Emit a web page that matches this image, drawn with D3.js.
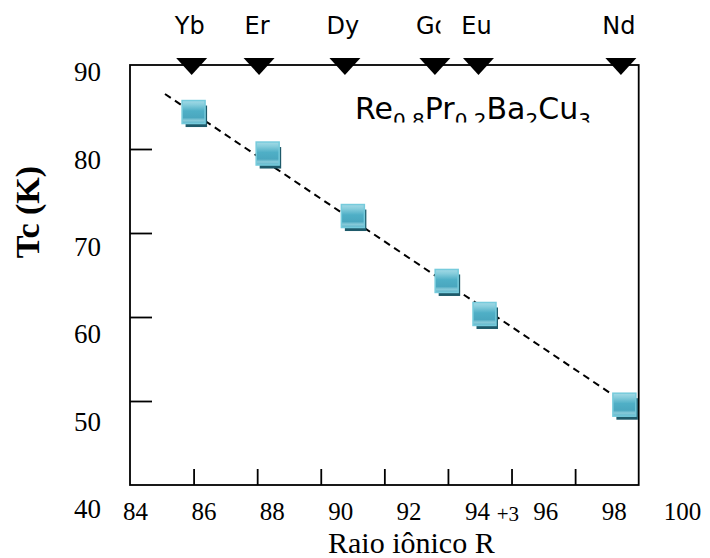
<!DOCTYPE html>
<html><head><meta charset="utf-8">
<script src="https://cdn.jsdelivr.net/npm/d3@7"></script>
<style>body{margin:0;background:#fff}</style>
</head><body>
<svg id="chart" width="710" height="558"></svg>
<script>
// ---- data ----
const elements = ["Yb", "Er", "Dy", "Gd", "Eu", "Nd"];
const radius = [86.0, 88.33, 91.01, 93.96, 95.15, 99.55];        // squares, x
const tc = [84.4, 79.46, 72.02, 64.29, 60.36, 49.56];             // squares, y (K)
const markerRadius = [85.94, 88.06, 90.76, 93.59, 94.96, 99.44];  // top triangle markers
const fitRadius = [85.1, 99.6];                                    // dashed fit line ends
const fitTc = [86.55, 49.68];
const xTickValues = [86, 88, 90, 92, 94, 96, 98];
const yTickValues = [50, 60, 70, 80];
const xTickLabels = [84, 86, 88, 90, 92, 94, 96, 98, 100];
const yTickLabels = [40, 50, 60, 70, 80, 90];
const formula = [["Re", "0.8"], ["Pr", "0.2"], ["Ba", "2"], ["Cu", "3"]];

// ---- layout ----
const svg = d3.select("#chart");
const frame = {left: 130, right: 638.7, top: 65, bottom: 485};
const x = d3.scaleLinear().domain([84, 100]).range([frame.left, frame.right]);
const y = d3.scaleLinear().domain([40, 90]).range([frame.bottom, frame.top]);
// tick-label layer (slightly stretched in the original figure)
const xl = d3.scaleLinear().domain([84, 100]).range([135, 682]);
const yl = d3.scaleLinear().domain([40, 90]).range([509, 72]);

const defs = svg.append("defs");
const grad = defs.append("linearGradient").attr("id", "sq").attr("x1", 0).attr("y1", 0).attr("x2", 0).attr("y2", 1);
[["0%", "#a3dae6"], ["18%", "#86cddc"], ["45%", "#4fafc6"], ["74%", "#4aa7bf"], ["86%", "#88cad9"], ["100%", "#5cb5ca"]]
  .forEach(([o, c]) => grad.append("stop").attr("offset", o).attr("stop-color", c));
defs.append("clipPath").attr("id", "fclip").append("rect")
  .attr("x", 300).attr("y", 80).attr("width", 330).attr("height", 42.5);

// ticks (inward)
const gx = svg.append("g").attr("transform", `translate(0,${frame.bottom})`)
  .call(d3.axisBottom(x).tickValues(xTickValues).tickSize(-16).tickFormat(""));
gx.select(".domain").remove();
gx.selectAll(".tick line").attr("stroke", "#000").attr("stroke-width", 1.8);
const gy = svg.append("g").attr("transform", `translate(${frame.left},0)`)
  .call(d3.axisLeft(y).tickValues(yTickValues).tickSize(-22).tickFormat(""));
gy.select(".domain").remove();
gy.selectAll(".tick line").attr("stroke", "#000").attr("stroke-width", 1.8);

// frame
svg.append("rect").attr("x", frame.left).attr("y", frame.top)
  .attr("width", frame.right - frame.left).attr("height", frame.bottom - frame.top)
  .attr("fill", "none").attr("stroke", "#000").attr("stroke-width", 1.8);

// tick labels
const gxl = svg.append("g").attr("transform", "translate(0,502)")
  .call(d3.axisBottom(xl).tickValues(xTickLabels).tickSize(0).tickPadding(0));
gxl.select(".domain").remove();
gxl.selectAll("text").attr("font-family", "'Liberation Serif', 'Times New Roman', serif")
  .attr("font-size", 25).attr("fill", "#000");
const gyl = svg.append("g").attr("transform", "translate(101,0)")
  .call(d3.axisLeft(yl).tickValues(yTickLabels).tickSize(0).tickPadding(0));
gyl.select(".domain").remove();
gyl.selectAll("text").attr("font-family", "'Liberation Serif', 'Times New Roman', serif")
  .attr("font-size", 27).attr("fill", "#000");

// axis titles
svg.append("text").attr("transform", "translate(39,212) rotate(-90)")
  .attr("text-anchor", "middle").attr("font-family", "'Liberation Serif', serif")
  .attr("font-weight", "bold").attr("font-size", 34).text("Tc (K)");
const xt = svg.append("text").attr("x", 328).attr("y", 553)
  .attr("font-family", "'Liberation Serif', serif").attr("font-size", 30);
xt.append("tspan").text("Raio iônico R");
xt.append("tspan").attr("font-size", 21).attr("dy", -32).attr("dx", 2).text("+3");

// dashed fit line
svg.append("path").datum(d3.zip(fitRadius, fitTc))
  .attr("d", d3.line().x(d => x(d[0])).y(d => y(d[1])))
  .attr("fill", "none").attr("stroke", "#000").attr("stroke-width", 2).attr("stroke-dasharray", "7,5");

// squares
const pts = d3.zip(radius, tc);
svg.append("g").selectAll("rect").data(pts).join("rect")
  .attr("x", d => x(d[0]) - 8).attr("y", d => y(d[1]) - 6.5)
  .attr("width", 21.5).attr("height", 21.5).attr("fill", "#1e5a6a");
svg.append("g").selectAll("rect").data(pts).join("rect")
  .attr("x", d => x(d[0]) - 11.5).attr("y", d => y(d[1]) - 11.5)
  .attr("width", 23).attr("height", 23).attr("fill", "url(#sq)")
  .attr("stroke", "#76cbdc").attr("stroke-width", 1.5);

// top element markers
svg.append("g").selectAll("path").data(markerRadius).join("path")
  .attr("transform", d => `translate(${x(d)},66.5)`)
  .attr("d", "M-15.5,-8.5L15.5,-8.5L0,8.5Z").attr("fill", "#000");
const lab = svg.append("g").selectAll("g").data(d3.zip(elements, markerRadius)).join("g")
  .attr("transform", d => `translate(${x(d[1]) - 2},0)`);
lab.append("rect").attr("x", -36).attr("y", 8).attr("width", 72).attr("height", 40).attr("fill", "#fff");
lab.append("text").attr("y", 33.5).attr("text-anchor", "middle")
  .attr("font-family", "'DejaVu Sans', sans-serif").attr("font-size", 24).text(d => d[0]);

// formula annotation (subscripts clipped at the bottom, as in the original)
const ft = svg.append("text").attr("x", 355).attr("y", 119).attr("clip-path", "url(#fclip)")
  .attr("font-family", "'DejaVu Sans', sans-serif").attr("font-size", 30).attr("fill", "#000");
formula.forEach(([el, sub], i) => {
  ft.append("tspan").attr("dy", i === 0 ? 0 : -8).attr("font-size", 30).text(el);
  ft.append("tspan").attr("dy", 8).attr("font-size", 20).text(sub);
});
</script>
</body></html>
